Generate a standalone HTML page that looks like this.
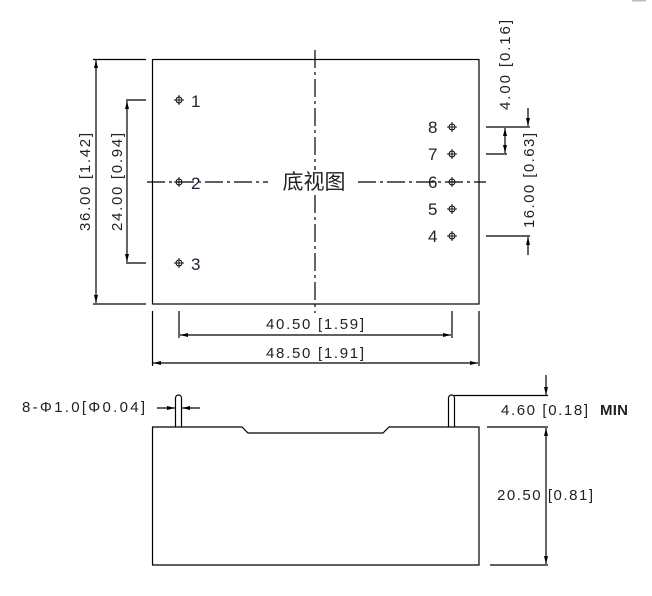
<!DOCTYPE html>
<html><head><meta charset="utf-8"><style>
html,body{margin:0;padding:0;background:#fff;width:652px;height:596px;overflow:hidden}
svg{display:block}
text{font-family:"Liberation Sans","Noto Sans CJK SC",sans-serif;fill:#222}
</style></head><body>
<svg width="652" height="596" viewBox="0 0 652 596" xmlns="http://www.w3.org/2000/svg">
<defs>
<marker id="a" viewBox="0 0 8 4" refX="8" refY="2" markerWidth="8" markerHeight="4" orient="auto-start-reverse" markerUnits="userSpaceOnUse"><path d="M0,0 L8,2 L0,4z" fill="#000"/></marker>
<g id="pin"><circle cx="0" cy="0" r="3" fill="none" stroke="#000" stroke-width="0.9"/><line x1="-5" y1="0" x2="5" y2="0" stroke="#000" stroke-width="0.9"/><line x1="0" y1="-5" x2="0" y2="5" stroke="#000" stroke-width="0.9"/></g>
</defs>
<rect x="632" y="0" width="14" height="1.5" fill="#bbb"/>
<g stroke="#000" stroke-width="1.2" fill="none">
<rect x="152.5" y="59.5" width="326.5" height="244.5"/>
<line x1="315" y1="50" x2="315" y2="313" stroke-dasharray="18,4,3,4"/>
<line x1="147" y1="182" x2="268" y2="182" stroke-dasharray="18,4,3,4"/>
<line x1="358" y1="182" x2="486" y2="182" stroke-dasharray="18,4,3,4"/>
<line x1="93" y1="59.5" x2="146" y2="59.5"/>
<line x1="93" y1="304" x2="146" y2="304"/>
<line x1="96" y1="60" x2="96" y2="303" marker-start="url(#a)" marker-end="url(#a)"/>
<line x1="126" y1="100" x2="146" y2="100"/>
<line x1="126" y1="263" x2="146" y2="263"/>
<line x1="127" y1="101" x2="127" y2="262" marker-start="url(#a)" marker-end="url(#a)"/>
<line x1="486" y1="127" x2="530" y2="127"/>
<line x1="486" y1="154" x2="507" y2="154"/>
<line x1="486" y1="236" x2="530" y2="236"/>
<line x1="505" y1="128" x2="505" y2="153" marker-start="url(#a)" marker-end="url(#a)"/>
<line x1="528" y1="108" x2="528" y2="126" marker-end="url(#a)"/>
<line x1="528" y1="255" x2="528" y2="237" marker-end="url(#a)"/>
<line x1="179" y1="311" x2="179" y2="338"/>
<line x1="452" y1="311" x2="452" y2="338"/>
<line x1="180" y1="335" x2="451" y2="335" marker-start="url(#a)" marker-end="url(#a)"/>
<line x1="152.5" y1="311" x2="152.5" y2="366"/>
<line x1="479" y1="311" x2="479" y2="366"/>
<line x1="153" y1="363" x2="478" y2="363" marker-start="url(#a)" marker-end="url(#a)"/>
<path d="M152.5,427 L242,427 L248,433 L383,433 L389,427 L479,427 L479,565 L152.5,565 Z"/>
<path d="M175.5,427 L175.5,398 A3,3 0 0 1 181.5,398 L181.5,427"/>
<path d="M448.5,427 L448.5,398 A3,3 0 0 1 454.5,398 L454.5,427"/>
<line x1="454" y1="395.5" x2="548" y2="395.5"/>
<line x1="487" y1="427" x2="548" y2="427"/>
<line x1="490" y1="565" x2="548" y2="565"/>
<line x1="546" y1="375" x2="546" y2="395" marker-end="url(#a)"/>
<line x1="546" y1="428" x2="546" y2="564" marker-start="url(#a)" marker-end="url(#a)"/>
<line x1="157" y1="408" x2="175" y2="408" marker-end="url(#a)"/>
<line x1="200" y1="408" x2="182" y2="408" marker-end="url(#a)"/>
</g>
<use href="#pin" x="179" y="100"/><use href="#pin" x="179" y="182"/><use href="#pin" x="179" y="263"/>
<use href="#pin" x="452" y="127"/><use href="#pin" x="452" y="154"/><use href="#pin" x="452" y="182"/><use href="#pin" x="452" y="209"/><use href="#pin" x="452" y="236"/>
<g font-size="17">
<text x="191" y="107" style="fill:#223">1</text>
<text x="191" y="189" style="fill:#223">2</text>
<text x="191" y="270" style="fill:#223">3</text>
<text x="428" y="133">8</text>
<text x="428" y="160">7</text>
<text x="428" y="188">6</text>
<text x="428" y="215">5</text>
<text x="428" y="242">4</text>
</g>
<rect x="270" y="170" width="86" height="24" fill="#fff"/>
<text x="314" y="189" font-size="21" text-anchor="middle">底视图</text>
<g font-size="15">
<text transform="translate(90,231) rotate(-90)" textLength="98" lengthAdjust="spacing">36.00 [1.42]</text>
<text transform="translate(122,231) rotate(-90)" textLength="98" lengthAdjust="spacing">24.00 [0.94]</text>
<text transform="translate(510,110) rotate(-90)" textLength="90" lengthAdjust="spacing">4.00 [0.16]</text>
<text transform="translate(534,228) rotate(-90)" textLength="95" lengthAdjust="spacing">16.00 [0.63]</text>
<text x="266" y="329" textLength="98" lengthAdjust="spacing">40.50 [1.59]</text>
<text x="266" y="358" textLength="98" lengthAdjust="spacing">48.50 [1.91]</text>
<text x="22" y="412" textLength="123" lengthAdjust="spacing">8-Φ1.0[Φ0.04]</text>
<text x="501" y="415" textLength="87" lengthAdjust="spacing">4.60 [0.18]</text>
<text x="600" y="415" font-weight="bold" textLength="28" lengthAdjust="spacing">MIN</text>
<text x="497" y="500" textLength="96" lengthAdjust="spacing">20.50 [0.81]</text>
</g>
</svg>
</body></html>
